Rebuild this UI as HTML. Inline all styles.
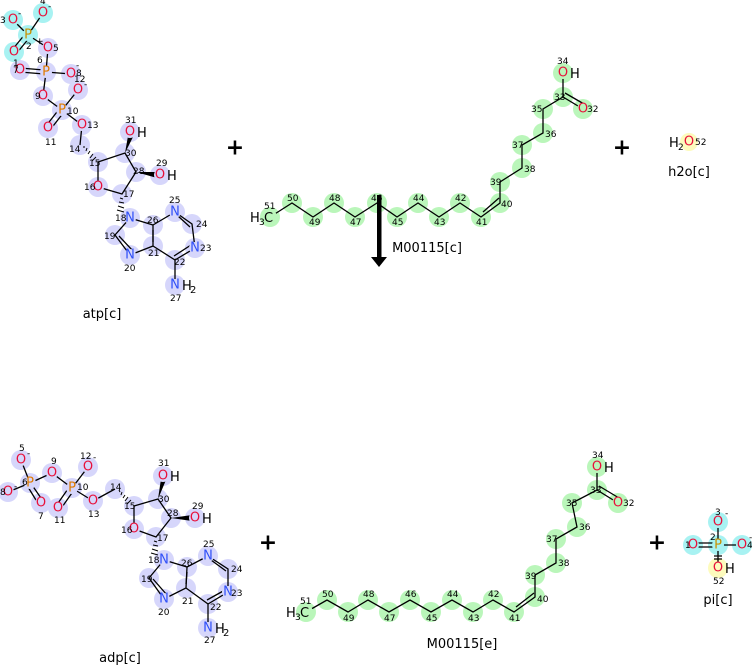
<!DOCTYPE html>
<html><head><meta charset="utf-8"><style>
html,body{margin:0;padding:0;background:#fff;}
svg{display:block;font-family:"DejaVu Sans","Liberation Sans",sans-serif;}
.l{stroke:#000;stroke-width:1.3;fill:none}
.n{font-size:9px;fill:#000}
.a{font-size:13px;text-anchor:middle;dominant-baseline:central}
.O{fill:#e8103a}.N{fill:#3050f8}.P{fill:#e07a00}.C{fill:#000}
.lab{font-size:13px;fill:#000;text-anchor:middle}
.plus{font-size:22px;font-weight:bold;text-anchor:middle;dominant-baseline:central}
</style></head><body>
<svg width="752" height="665" viewBox="0 0 752 665" xmlns="http://www.w3.org/2000/svg">
<!-- highlights -->
<g fill="#d6d6fb">
<circle cx="48" cy="48" r="10"/><circle cx="46" cy="72" r="10"/><circle cx="20" cy="70" r="10"/><circle cx="71" cy="74" r="10"/>
<circle cx="43" cy="96" r="10"/><circle cx="62" cy="110" r="10"/><circle cx="48" cy="128" r="10"/><circle cx="78" cy="90" r="10"/>
<circle cx="82" cy="125" r="10"/><circle cx="80" cy="145" r="10"/><circle cx="98" cy="162" r="10"/><circle cx="98" cy="187" r="10"/>
<circle cx="122" cy="194" r="10"/><circle cx="136" cy="172" r="10"/><circle cx="125" cy="153" r="10"/><circle cx="130" cy="132" r="10"/>
<circle cx="160" cy="175" r="10"/><circle cx="130" cy="218" r="10"/><circle cx="115" cy="235" r="10"/><circle cx="130" cy="255" r="10"/>
<circle cx="153" cy="246" r="10"/><circle cx="153" cy="225" r="10"/><circle cx="175" cy="212" r="10"/><circle cx="192" cy="224" r="10"/>
<circle cx="195" cy="248" r="10"/><circle cx="175" cy="260" r="10"/><circle cx="175" cy="285" r="10"/>
<!-- adp -->
<circle cx="21" cy="460" r="10"/><circle cx="30" cy="483" r="10"/><circle cx="8" cy="492" r="10"/><circle cx="41" cy="503" r="10"/>
<circle cx="52" cy="473" r="10"/><circle cx="72" cy="488" r="10"/><circle cx="58" cy="508" r="10"/><circle cx="88" cy="467" r="10"/>
<circle cx="93" cy="501" r="10"/><circle cx="115" cy="489" r="10"/><circle cx="134" cy="506" r="10"/><circle cx="134" cy="529" r="10"/>
<circle cx="156" cy="537" r="10"/><circle cx="171" cy="518" r="10"/><circle cx="158" cy="499" r="10"/><circle cx="163" cy="476" r="10"/>
<circle cx="195" cy="518" r="10"/><circle cx="164" cy="560" r="10"/><circle cx="149" cy="578" r="10"/><circle cx="164" cy="599" r="10"/>
<circle cx="186" cy="588" r="10"/><circle cx="187" cy="567" r="10"/><circle cx="208" cy="556" r="10"/><circle cx="228" cy="569" r="10"/>
<circle cx="228" cy="592" r="10"/><circle cx="208" cy="604" r="10"/><circle cx="208" cy="628" r="10"/>
</g>
<g fill="#a8f2f2">
<circle cx="13" cy="20" r="10"/><circle cx="43" cy="13" r="10"/><circle cx="28" cy="35" r="10"/><circle cx="14" cy="52" r="10"/>
<circle cx="718" cy="545" r="10"/><circle cx="718" cy="522" r="10"/><circle cx="693" cy="545" r="10"/><circle cx="742" cy="545" r="10"/>
</g>
<g fill="#fdfbbd"><circle cx="689" cy="142" r="9"/><circle cx="718" cy="568" r="10"/></g>
<g fill="#baf6ba">
<circle cx="270" cy="217" r="10"/><circle cx="292" cy="203" r="10"/><circle cx="313" cy="217" r="10"/><circle cx="334" cy="203" r="10"/>
<circle cx="355" cy="217" r="10"/><circle cx="377" cy="203" r="10"/><circle cx="397" cy="217" r="10"/><circle cx="418" cy="203" r="10"/>
<circle cx="439" cy="217" r="10"/><circle cx="460" cy="203" r="10"/><circle cx="481" cy="217" r="10"/><circle cx="500" cy="203" r="10"/>
<circle cx="500" cy="182" r="10"/><circle cx="522" cy="168" r="10"/><circle cx="522" cy="145" r="10"/><circle cx="543" cy="133" r="10"/>
<circle cx="543" cy="109" r="10"/><circle cx="563" cy="97" r="10"/><circle cx="583" cy="109" r="10"/><circle cx="563" cy="73" r="10"/>
<circle cx="306" cy="612" r="10"/><circle cx="327" cy="600" r="10"/><circle cx="348" cy="612" r="10"/><circle cx="368" cy="600" r="10"/>
<circle cx="389" cy="612" r="10"/><circle cx="410" cy="600" r="10"/><circle cx="431" cy="612" r="10"/><circle cx="452" cy="600" r="10"/>
<circle cx="473" cy="612" r="10"/><circle cx="493" cy="600" r="10"/><circle cx="514" cy="612" r="10"/><circle cx="535" cy="597" r="10"/>
<circle cx="535" cy="575" r="10"/><circle cx="556" cy="563" r="10"/><circle cx="556" cy="539" r="10"/><circle cx="577" cy="527" r="10"/>
<circle cx="572" cy="503" r="10"/><circle cx="597" cy="490" r="10"/><circle cx="618" cy="503" r="10"/><circle cx="597" cy="467" r="10"/>
</g>
<!-- bonds ATP -->
<g class="l">
<path d="M13 20L28 35M43 13L28 35M28 35L48 48M48 48L46 72M46 72L71 74M46 72L43 96M43 96L62 110M62 110L78 90M62 110L82 125M82 125L80 145"/>
<path d="M26 33L12 50M30 37L16 54M44 70L20 68M44 74L20 72M60 108L46 126M64 112L50 130"/>
<path d="M98 162L125 153L136 172L122 194L98 187Z"/>
<path d="M130 218L115 235L130 255L153 246L153 225L130 218M153 225L175 212L192 224L195 248L175 260L153 246M175 260L175 285"/>
<path d="M133 251L119 236M153 230L153 242M178 216L190 227M174 256L191 245"/>
<!-- ADP -->
<path d="M21 460L30 483M8 492L30 483M30 483L52 473M52 473L72 488M72 488L88 467M72 488L93 501M93 501L115 489"/>
<path d="M32 485L43 501M28 487L39 505M70 486L56 506M74 490L60 510"/>
<path d="M134 506L158 499L171 518L156 537L134 529Z"/>
<path d="M164 560L149 578L164 599L186 588L187 567L164 560M187 567L208 556L228 569L228 592L208 604L186 588M208 604L208 628"/>
<path d="M167 595L153 579M187 572L186 584M211 560L226 571M207 600L225 590"/>
<!-- chains -->
<path d="M270 217L292 203L313 217L334 203L355 217L377 203L397 217L418 203L439 217L460 203L481 217L500 203L500 182L522 168L522 145L543 133L543 109L563 97L583 109M563 97L563 73"/>
<path d="M483 212L499 198M565 93L584 104"/>
<path d="M306 612L327 600L348 612L368 600L389 612L410 600L431 612L452 600L473 612L493 600L514 612L535 597L535 575L556 563L556 539L577 527L572 503L597 490L618 503M597 490L597 467"/>
<path d="M516 607L534 593M599 486L619 498"/>
<!-- pi -->
<path d="M718 545L718 522M718 545L742 545M718 545L718 568M718 543L693 543M718 547L693 547M714 556L722 556M714 559L722 559"/>
</g>
<!-- wedges -->
<g fill="#000">
<polygon points="125,153 128,136 133,137"/><polygon points="136,172 157,172 157,178"/>
<polygon points="158,499 161,479 166,480"/><polygon points="171,518 192,515 192,521"/>
</g>
<g stroke="#000" stroke-width="1">
<path d="M84 146l0 2M87 148l-1 3M90 151l-2 3M93 154l-3 4M96 157l-4 4"/>
<path d="M120 198l3 1M119 202l5 1M118 206l6 2M117 210l7 2"/>
<path d="M119 490l1 2M122 492l-1 3M125 495l-2 3M128 497l-3 4M131 500l-4 4"/>
<path d="M154 541l3 1M153 545l5 1M152 549l6 2M151 553l7 2"/>
</g>
<!-- hetero atom label backgrounds -->
<g fill="#d6d6fb">
<circle cx="48" cy="48" r="6"/><circle cx="46" cy="72" r="6"/><circle cx="20" cy="70" r="6"/><circle cx="71" cy="74" r="6"/><circle cx="43" cy="96" r="6"/><circle cx="62" cy="110" r="6"/><circle cx="48" cy="128" r="6"/><circle cx="78" cy="90" r="6"/><circle cx="82" cy="125" r="6"/><circle cx="98" cy="187" r="6"/><circle cx="130" cy="132" r="6"/><circle cx="160" cy="175" r="6"/><circle cx="130" cy="218" r="6"/><circle cx="130" cy="255" r="6"/><circle cx="175" cy="212" r="6"/><circle cx="195" cy="248" r="6"/><circle cx="175" cy="285" r="6"/>
<circle cx="21" cy="460" r="6"/><circle cx="30" cy="483" r="6"/><circle cx="8" cy="492" r="6"/><circle cx="41" cy="503" r="6"/><circle cx="52" cy="473" r="6"/><circle cx="72" cy="488" r="6"/><circle cx="58" cy="508" r="6"/><circle cx="88" cy="467" r="6"/><circle cx="93" cy="501" r="6"/><circle cx="134" cy="529" r="6"/><circle cx="163" cy="476" r="6"/><circle cx="195" cy="518" r="6"/><circle cx="164" cy="560" r="6"/><circle cx="164" cy="599" r="6"/><circle cx="208" cy="556" r="6"/><circle cx="228" cy="592" r="6"/><circle cx="208" cy="628" r="6"/>
</g>
<g fill="#a8f2f2"><circle cx="13" cy="20" r="6"/><circle cx="43" cy="13" r="6"/><circle cx="28" cy="35" r="6"/><circle cx="14" cy="52" r="6"/><circle cx="718" cy="545" r="6"/><circle cx="718" cy="522" r="6"/><circle cx="693" cy="545" r="6"/><circle cx="742" cy="545" r="6"/></g>
<g fill="#fdfbbd"><circle cx="718" cy="568" r="6"/></g>
<g fill="#baf6ba"><circle cx="583" cy="109" r="6"/><circle cx="563" cy="73" r="6"/><circle cx="618" cy="503" r="6"/><circle cx="597" cy="467" r="6"/><circle cx="270" cy="217" r="7"/><circle cx="306" cy="612" r="7"/></g>
<!-- atom labels -->
<g class="a">
<text x="13" y="20" class="O">O</text><text x="43" y="13" class="O">O</text><text x="28" y="35" class="P" style="fill:#c89000">P</text><text x="14" y="52" class="O">O</text>
<text x="48" y="48" class="O">O</text><text x="46" y="72" class="P">P</text><text x="20" y="70" class="O">O</text><text x="71" y="74" class="O">O</text>
<text x="43" y="96" class="O">O</text><text x="62" y="110" class="P">P</text><text x="48" y="128" class="O">O</text><text x="78" y="90" class="O">O</text>
<text x="82" y="125" class="O">O</text><text x="98" y="187" class="O">O</text><text x="130" y="132" class="O">O</text><text x="160" y="175" class="O">O</text>
<text x="130" y="218" class="N">N</text><text x="130" y="255" class="N">N</text><text x="175" y="212" class="N">N</text><text x="195" y="248" class="N">N</text><text x="175" y="285" class="N">N</text>
<text x="21" y="460" class="O">O</text><text x="30" y="483" class="P">P</text><text x="8" y="492" class="O">O</text><text x="41" y="503" class="O">O</text>
<text x="52" y="473" class="O">O</text><text x="72" y="488" class="P">P</text><text x="58" y="508" class="O">O</text><text x="88" y="467" class="O">O</text>
<text x="93" y="501" class="O">O</text><text x="134" y="529" class="O">O</text><text x="163" y="476" class="O">O</text><text x="195" y="518" class="O">O</text>
<text x="164" y="560" class="N">N</text><text x="164" y="599" class="N">N</text><text x="208" y="556" class="N">N</text><text x="228" y="592" class="N">N</text><text x="208" y="628" class="N">N</text>
<text x="583" y="109" class="O">O</text><text x="563" y="73" class="O">O</text><text x="618" y="503" class="O">O</text><text x="597" y="467" class="O">O</text>
<text x="689" y="142" class="O">O</text>
<text x="718" y="545" class="P" style="fill:#c89000">P</text><text x="718" y="522" class="O">O</text><text x="693" y="545" class="O">O</text><text x="742" y="545" class="O">O</text><text x="718" y="568" class="O">O</text>
</g>
<g style="font-size:13px" fill="#000">
<text x="137" y="137">H</text><text x="167" y="180">H</text><text x="182" y="290">H</text><text x="190" y="293" style="font-size:10px">2</text>
<text x="170" y="481">H</text><text x="202" y="523">H</text><text x="215" y="633">H</text><text x="223" y="636" style="font-size:10px">2</text>
<text x="570" y="78">H</text><text x="604" y="472">H</text><text x="725" y="573">H</text>
<text x="250" y="222">H</text><text x="259" y="225" style="font-size:9px">3</text><text x="264" y="222">C</text>
<text x="286" y="617">H</text><text x="295" y="620" style="font-size:9px">3</text><text x="300" y="617">C</text>
<text x="669" y="147">H</text><text x="678" y="150" style="font-size:9px">2</text>
</g>
<!-- numbers -->
<g class="n">
<text x="0" y="23">3</text><text x="40" y="4">4</text><text x="18" y="16">-</text><text x="48" y="9">-</text><text x="26" y="49">2</text><text x="36" y="44">+</text><text x="53" y="51">5</text>
<text x="13" y="66">1</text><text x="13" y="73">7</text><text x="37" y="63">6</text><text x="76" y="76">8</text><text x="76" y="68">-</text><text x="74" y="82">12</text><text x="84" y="87">-</text>
<text x="35" y="99">9</text><text x="67" y="114">10</text><text x="45" y="145">11</text><text x="87" y="128">13</text><text x="69" y="152">14</text><text x="89" y="166">15</text>
<text x="84" y="190">16</text><text x="123" y="197">17</text><text x="125" y="156">30</text><text x="133" y="174">28</text><text x="125" y="123">31</text><text x="156" y="166">29</text>
<text x="115" y="221">18</text><text x="104" y="239">19</text><text x="124" y="271">20</text><text x="148" y="256">21</text><text x="147" y="223">26</text><text x="169" y="203">25</text>
<text x="196" y="227">24</text><text x="200" y="251">23</text><text x="174" y="265">22</text><text x="170" y="301">27</text>
<text x="19" y="451">5</text><text x="27" y="456">-</text><text x="0" y="495">8</text><text x="14" y="489">-</text><text x="22" y="485">6</text><text x="38" y="519">7</text>
<text x="51" y="464">9</text><text x="80" y="459">12</text><text x="93" y="460">-</text><text x="77" y="490">10</text><text x="54" y="523">11</text><text x="88" y="517">13</text>
<text x="110" y="490">14</text><text x="124" y="509">15</text><text x="121" y="533">16</text><text x="157" y="541">17</text><text x="158" y="502">30</text><text x="167" y="516">28</text>
<text x="158" y="466">31</text><text x="192" y="509">29</text><text x="148" y="563">18</text><text x="141" y="582">19</text><text x="158" y="615">20</text><text x="182" y="604">21</text>
<text x="181" y="566">26</text><text x="203" y="547">25</text><text x="231" y="572">24</text><text x="231" y="596">23</text><text x="210" y="610">22</text><text x="204" y="643">27</text>
<text x="264" y="209">51</text><text x="287" y="201">50</text><text x="309" y="225">49</text><text x="329" y="201">48</text><text x="350" y="225">47</text><text x="371" y="201">46</text>
<text x="392" y="225">45</text><text x="413" y="201">44</text><text x="434" y="225">43</text><text x="455" y="201">42</text><text x="476" y="225">41</text><text x="501" y="207">40</text>
<text x="490" y="185">39</text><text x="524" y="172">38</text><text x="512" y="148">37</text><text x="545" y="137">36</text><text x="531" y="112">35</text><text x="554" y="100">33</text>
<text x="587" y="112">32</text><text x="557" y="64">34</text>
<text x="300" y="604">51</text><text x="322" y="597">50</text><text x="343" y="621">49</text><text x="363" y="597">48</text><text x="384" y="621">47</text><text x="405" y="597">46</text>
<text x="426" y="621">45</text><text x="447" y="597">44</text><text x="468" y="621">43</text><text x="488" y="597">42</text><text x="509" y="621">41</text><text x="537" y="602">40</text>
<text x="525" y="579">39</text><text x="558" y="566">38</text><text x="546" y="542">37</text><text x="579" y="530">36</text><text x="566" y="506">35</text><text x="590" y="493">33</text>
<text x="623" y="506">32</text><text x="592" y="458">34</text>
<text x="695" y="145">52</text>
<text x="715" y="515">3</text><text x="725" y="516">-</text><text x="710" y="540">2</text><text x="685" y="548">1</text><text x="747" y="548">4</text><text x="749" y="540">-</text><text x="713" y="584">52</text>
</g>
<!-- arrow -->
<rect x="377" y="195" width="4.5" height="62" fill="#000"/>
<polygon points="371,257 387,257 379,267" fill="#000"/>
<!-- plus & labels -->
<g class="plus"><text x="235" y="148">+</text><text x="622" y="148">+</text><text x="268" y="543">+</text><text x="657" y="543">+</text></g>
<g class="lab">
<text x="102" y="318">atp[c]</text><text x="427" y="252">M00115[c]</text><text x="689" y="176">h2o[c]</text>
<text x="120" y="662">adp[c]</text><text x="462" y="648">M00115[e]</text><text x="718" y="604">pi[c]</text>
</g>
</svg>
</body></html>
